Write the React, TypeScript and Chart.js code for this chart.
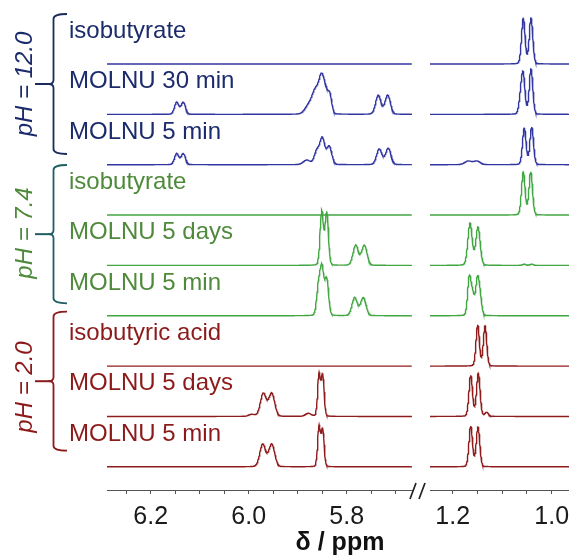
import React, { useEffect, useRef } from 'react';
import { Chart, registerables } from 'chart.js';

Chart.register(...registerables);

// ---------------- data ----------------
const spectrumLabels = [
  'isobutyrate', 'MOLNU 30 min', 'MOLNU 5 min',
  'isobutyrate', 'MOLNU 5 days', 'MOLNU 5 min',
  'isobutyric acid', 'MOLNU 5 days', 'MOLNU 5 min',
];
const spectrumGroup = [0, 0, 0, 1, 1, 1, 2, 2, 2];
const groupLabels = ['pH = 12.0', 'pH = 7.4', 'pH = 2.0'];

// peaks: [δ (ppm), intensity, σ (ppm)]
const peaksIsobutyrate12 = [[1.0574, 45.5, 0.0036], [1.0418, 45.5, 0.0036]];
const peaksMolnu30min12 = [
  [6.147, 12, 0.0045], [6.1335, 12, 0.0045],
  [5.8769, 9, 0.008], [5.8637, 21, 0.0066], [5.8514, 34, 0.0056], [5.8422, 17, 0.005], [5.8341, 16, 0.0039],
  [5.7355, 19, 0.0055], [5.7163, 19, 0.0055],
  [1.0625, 16, 0.0036], [1.0574, 36, 0.0036], [1.0418, 45, 0.0036],
];
const peaksMolnu5min12 = [
  [6.147, 11, 0.0045], [6.1335, 11, 0.0045],
  [5.8816, 4.5, 0.0071], [5.8612, 13, 0.0051], [5.8498, 26, 0.0051], [5.8355, 18, 0.0051],
  [5.7335, 15.7, 0.0055], [5.7151, 16.4, 0.0055],
  [1.169, 3.6, 0.007], [1.151, 3.6, 0.007], [1.0554, 36.4, 0.0036], [1.0404, 37.4, 0.0036],
];
const peaksIsobutyrate74 = [[1.0574, 43, 0.0036], [1.0424, 43, 0.0036]];
const peaksMolnu5days74 = [
  [5.851, 54, 0.0034], [5.8408, 53, 0.0034],
  [5.7816, 20, 0.0055], [5.764, 20, 0.0055],
  [1.165, 42, 0.0044], [1.1489, 38, 0.0044], [1.0554, 1.2, 0.0036], [1.0404, 1.2, 0.0036],
];
const peaksMolnu5min74 = [
  [5.8576, 28, 0.0038], [5.8504, 45, 0.0038], [5.8408, 36, 0.0038],
  [5.7837, 18, 0.0055], [5.7661, 18, 0.0055],
  [1.1665, 38, 0.0034], [1.1596, 20, 0.0034], [1.1503, 34, 0.0034], [1.1448, 18, 0.0034],
];
const peaksIsobutyricAcid2 = [[1.1495, 41, 0.0034], [1.1347, 40, 0.0034]];
const peaksMolnu5days2 = [
  [5.994, 2, 0.006], [5.9702, 23, 0.006], [5.953, 23, 0.006],
  [5.8784, 3, 0.006], [5.8565, 42, 0.0029], [5.849, 41, 0.0029],
  [1.1636, 41, 0.0036], [1.1483, 43, 0.0036], [1.1313, 4, 0.0036],
];
const peaksMolnu5min2 = [
  [5.9714, 22.5, 0.006], [5.953, 22.5, 0.006],
  [5.8565, 40, 0.0029], [5.849, 37, 0.0029],
  [1.1636, 40.5, 0.0036], [1.1489, 39.5, 0.0036],
];

const spectraPeaks = [
  peaksIsobutyrate12, peaksMolnu30min12, peaksMolnu5min12,
  peaksIsobutyrate74, peaksMolnu5days74, peaksMolnu5min74,
  peaksIsobutyricAcid2, peaksMolnu5days2, peaksMolnu5min2,
];

const leftRange = [6.2892, 5.6667];
const rightRange = [1.2459, 0.9651];
const leftTickLabels = [6.2, 6.0, 5.8];
const rightTickLabels = [1.2, 1.0];

// ---------------- styles / layout ----------------
const lineColors = ['#3236a0', '#42a642', '#8e1c1c'];
const textColors = ['#1b2b6b', '#4f8a3b', '#8c1a1a'];
const bracketColors = ['#1b2b5e', '#1f5f63', '#8c1a1a'];
const bracketTop = [14, 165, 311.7];
const bracketBottom = [154, 303.3, 450.7];
const phCenterY = [84, 233, 387];
const FONT = '"Liberation Sans", Arial, sans-serif';
const LORENTZ = 0.1;
const Y_MAX = 490;
const FIRST_OFFSET = 426;
const OFFSET_STEP = 50.35;

function intensityAt(x: number, peaks: number[][]) {
  let s = 0;
  for (const [c, h, w] of peaks) {
    const d = x - c;
    const g = Math.exp(-(d * d) / (2 * w * w));
    const gam = w * 1.1774;
    const l = 1 / (1 + (d / gam) * (d / gam));
    s += h * (LORENTZ * l + (1 - LORENTZ) * g);
  }
  return s;
}

function sample(peaks: number[][], from: number, to: number, step: number, offset: number) {
  const pts: { x: number; y: number }[] = [];
  const n = Math.round((from - to) / step);
  for (let k = 0; k <= n; k++) {
    const x = from - k * step;
    pts.push({ x, y: offset + intensityAt(x, peaks) });
  }
  return pts;
}

const offsets = spectraPeaks.map((_, i) => FIRST_OFFSET - i * OFFSET_STEP);

const overlayPlugin = {
  id: 'overlay',
  afterDraw(chart: any) {
    const ctx = chart.ctx as CanvasRenderingContext2D;
    const ys = chart.scales.y;
    ctx.save();
    // spectrum labels
    ctx.font = `24px ${FONT}`;
    ctx.textAlign = 'left';
    ctx.textBaseline = 'alphabetic';
    spectrumLabels.forEach((lab, i) => {
      const base = ys.getPixelForValue(offsets[i]);
      ctx.fillStyle = textColors[spectrumGroup[i]];
      ctx.fillText(lab, 69, base - 26);
    });
    // brackets
    const bx = 53.5;
    for (let g = 0; g < 3; g++) {
      const t = bracketTop[g];
      const b = bracketBottom[g];
      const m = (t + b) / 2;
      ctx.strokeStyle = bracketColors[g];
      ctx.lineWidth = 1.8;
      ctx.beginPath();
      ctx.moveTo(67, t);
      ctx.quadraticCurveTo(bx, t, bx, t + 5);
      ctx.lineTo(bx, m - 4);
      ctx.quadraticCurveTo(bx, m, bx - 5, m);
      ctx.quadraticCurveTo(bx, m, bx, m + 4);
      ctx.lineTo(bx, b - 5);
      ctx.quadraticCurveTo(bx, b, 67, b);
      ctx.stroke();
      ctx.lineWidth = 2;
      ctx.beginPath();
      ctx.moveTo(35, m);
      ctx.lineTo(bx - 3, m);
      ctx.stroke();
      // pH label
      ctx.save();
      ctx.translate(25.5, phCenterY[g]);
      ctx.rotate(-Math.PI / 2);
      ctx.font = `italic 24px ${FONT}`;
      ctx.textAlign = 'center';
      ctx.textBaseline = 'middle';
      ctx.fillStyle = textColors[g];
      ctx.fillText(groupLabels[g], 0, 0);
      ctx.restore();
    }
    // axis break mark
    ctx.strokeStyle = '#222';
    ctx.lineWidth = 1.7;
    ctx.beginPath();
    ctx.moveTo(410, 499);
    ctx.lineTo(416, 483);
    ctx.moveTo(419, 499);
    ctx.lineTo(425, 483);
    ctx.stroke();
    // axis title
    ctx.fillStyle = '#111';
    ctx.font = `bold 25px ${FONT}`;
    ctx.textAlign = 'center';
    ctx.textBaseline = 'alphabetic';
    ctx.fillText('δ / ppm', 340, 550);
    ctx.restore();
  },
};

function fixBox(s: any) {
  s.height = 68;
  s.paddingLeft = 0;
  s.paddingRight = 0;
  s.paddingTop = 0;
  s.paddingBottom = 0;
}

function axisOptions(min: number, max: number, weight: number, labels: number[]) {
  return {
    type: 'linear',
    position: 'bottom',
    stack: 'x',
    stackWeight: weight,
    reverse: true,
    min,
    max,
    afterFit: fixBox,
    border: { display: true, color: '#555', width: 1 },
    grid: { display: true, drawOnChartArea: false, drawTicks: true, tickLength: 4, color: '#555', lineWidth: 1 },
    ticks: {
      stepSize: 0.05,
      maxTicksLimit: 100,
      includeBounds: false,
      autoSkip: false,
      maxRotation: 0,
      minRotation: 0,
      padding: 8,
      color: '#1a1a1a',
      font: { family: FONT, size: 25 },
      callback: (v: any) => (labels.some((t) => Math.abs(t - Number(v)) < 1e-6) ? Number(v).toFixed(1) : ''),
    },
  };
}

export default function App() {
  const ref = useRef<HTMLCanvasElement>(null);
  useEffect(() => {
    const datasets: any[] = [];
    spectraPeaks.forEach((peaks, i) => {
      const color = lineColors[spectrumGroup[i]];
      datasets.push({
        xAxisID: 'xL', yAxisID: 'y',
        data: sample(peaks, leftRange[0], leftRange[1], 0.0008, offsets[i]),
        borderColor: color, borderWidth: 1.4, pointRadius: 0, fill: false, tension: 0,
      });
      datasets.push({
        xAxisID: 'xR', yAxisID: 'y',
        data: sample(peaks, rightRange[0], rightRange[1], 0.0004, offsets[i]),
        borderColor: color, borderWidth: 1.4, pointRadius: 0, fill: false, tension: 0,
      });
    });
    const chart = new Chart(ref.current as HTMLCanvasElement, {
      type: 'line',
      data: { datasets },
      options: {
        animation: false,
        responsive: false,
        devicePixelRatio: 1,
        events: [],
        layout: { padding: { left: 107, right: 0, top: 0, bottom: 0 } },
        plugins: { legend: { display: false }, tooltip: { enabled: false } },
        scales: {
          xL: axisOptions(leftRange[1], leftRange[0], 305, leftTickLabels),
          xGap: {
            type: 'linear', position: 'bottom', stack: 'x', stackWeight: 18, min: 0, max: 1,
            afterFit: fixBox,
            border: { display: false }, grid: { display: false }, ticks: { display: false },
          },
          xR: axisOptions(rightRange[1], rightRange[0], 139, rightTickLabels),
          y: { type: 'linear', display: false, min: 0, max: Y_MAX },
        },
      } as any,
      plugins: [overlayPlugin],
    });
    return () => chart.destroy();
  }, []);
  return (
    <div style={{ position: 'fixed', left: 0, top: 0, width: 569, height: 558, background: '#fff' }}>
      <canvas ref={ref} width={569} height={558} style={{ display: 'block', width: 569, height: 558 }} />
    </div>
  );
}
